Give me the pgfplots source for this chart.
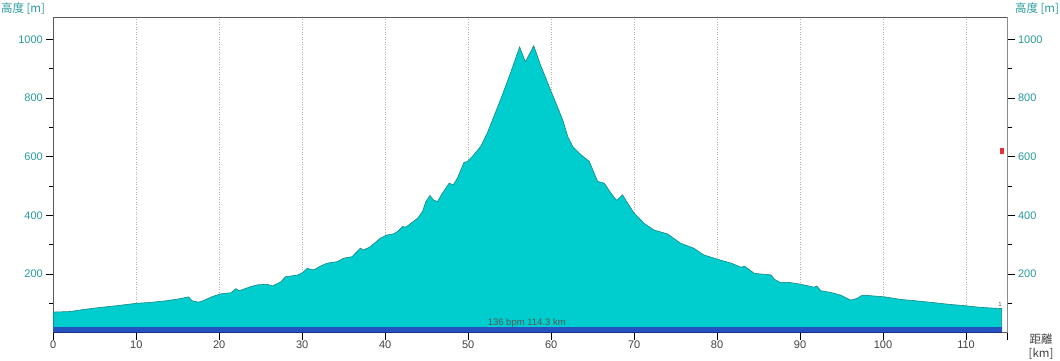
\documentclass[border=0pt]{standalone}
\usepackage{fontspec}
\setmainfont{Liberation Sans}
\newfontfamily\cjk{Noto Sans CJK JP}
\usepackage{pgfplots}
\usepackage{pgfplotstable}
\pgfplotsset{compat=1.18}
\definecolor{fillc}{HTML}{00CDCD}
\definecolor{edgec}{HTML}{1A8585}
\definecolor{bandc}{HTML}{2452C0}
\definecolor{bandedge}{HTML}{1A2E8A}
\definecolor{tealtxt}{HTML}{2A9A9A}
\definecolor{graytxt}{HTML}{404040}
\definecolor{gridc}{HTML}{B0B0B0}
\definecolor{markred}{HTML}{E83030}

\pgfplotstableread{
km   ele
0    70
2.05 72
3.66 79
5.67 86
7.68 92
10.0 100
11.7 103
13.7 109
15.3 116
16.3 122
16.7 109
17.5 104
18.1 109
18.9 120
20.1 132
21.4 136
22.0 150
22.4 143
23.8 157
24.6 163
25.8 165
26.4 159
27.4 173
28.0 191
29.4 196
30.0 204
30.6 219
31.4 214
32.2 227
33.0 237
34.2 242
35.0 254
36.0 259
37.0 288
37.4 282
38.2 293
39.4 322
40.2 333
41.0 337
41.5 345
42.1 362
42.5 360
43.1 373
43.9 390
44.5 413
44.9 447
45.4 468
45.8 453
46.3 447
46.9 476
47.7 510
48.2 504
48.7 527
49.5 581
49.9 584
50.5 601
51.5 635
52.3 681
53.1 738
53.9 795
55.1 886
56.2 975
56.9 924
57.9 979
58.7 915
60.0 823
61.4 726
62.0 669
62.6 635
63.6 607
64.6 584
65.6 516
66.4 510
67.2 476
67.9 451
68.6 470
69.1 447
70.0 408
71.2 373
72.4 350
74.0 337
75.6 305
77.2 288
78.4 265
80.1 250
81.7 237
82.9 223
83.3 227
84.5 202
85.3 200
86.5 197
86.9 182
87.7 170
88.5 172
90.1 165
91.7 155
92.0 159
92.5 143
93.7 137
94.9 128
96.1 111
96.9 117
97.5 128
98.9 125
100.2 122
102.2 113
103.8 109
106.2 102
107.8 97
109.8 92
111.8 86
114.3 82
}\profile

\begin{document}
\begin{tikzpicture}[x=1pt,y=1pt]
\path[use as bounding box] (0,0) rectangle (1060,360);
\begin{axis}[
  at={(53.3pt,27.4pt)}, anchor=south west,
  scale only axis, width=954.2pt, height=315.3pt,
  xmin=0, xmax=115, ymin=0, ymax=1076,
  axis line style={draw=black!65, line width=0.9pt},
  tick align=outside,
  xtick pos=bottom, ytick pos=left,
  xtick={0,10,...,110},
  extra x ticks={115}, extra x tick labels={},
  extra x tick style={grid=none},
  ytick={200,400,...,1000},
  minor ytick={100,300,...,900},
  major tick length=7pt, minor tick length=4.5pt,
  every tick/.style={black, line width=0.9pt},
  xmajorgrids,
  major x grid style={draw=gridc, dash pattern=on 1pt off 1.5pt, line width=0.8pt},
  /pgf/number format/assume math mode=true,
  /pgf/number format/1000 sep={},
  xticklabel style={font=\fontsize{11}{13}\selectfont, text=graytxt, yshift=2pt},
  yticklabel style={font=\fontsize{11}{13}\selectfont, text=tealtxt},
  clip=false,
]
\addplot[fill=fillc, draw=edgec, line width=0.6pt] table[x=km,y=ele] {\profile} \closedcycle;
\addplot[fill=bandc, draw=none] coordinates {(0,20) (114.3,20)} \closedcycle;
\addplot[draw=bandedge, line width=1pt] coordinates {(0,0.8) (114.3,0.8)};
\addplot[fill=markred, draw=none] coordinates {(114.05,608) (114.05,631) (114.55,631) (114.55,608)} -- cycle;
\node[font=\fontsize{9.5}{11}\selectfont, text=black!65] at (axis cs:57.06,32.5) {136 bpm 114.3 km};
\node[font=\fontsize{6}{7}\selectfont, text=black!70] at (axis cs:114.1,96) {1};
\end{axis}
\begin{axis}[
  at={(53.3pt,27.4pt)}, anchor=south west,
  scale only axis, width=954.2pt, height=315.3pt,
  xmin=0, xmax=115, ymin=0, ymax=1076,
  axis x line=none, axis y line*=right,
  axis line style={draw=black!45, line width=1.6pt, -},
  tick align=outside,
  ytick={200,400,...,1000},
  minor ytick={100,300,...,900},
  major tick length=7pt, minor tick length=4.5pt,
  every tick/.style={black, line width=0.9pt},
  /pgf/number format/assume math mode=true,
  /pgf/number format/1000 sep={},
  yticklabel style={font=\fontsize{11}{13}\selectfont, text=tealtxt},
]
\addplot[draw=none] coordinates {(0,0)};
\end{axis}
\node[font=\cjk\fontsize{11.5}{13}\selectfont, text=tealtxt] at (23,351.5) {高度 [m]};
\node[font=\cjk\fontsize{11.5}{13}\selectfont, text=tealtxt] at (1037,351.5) {高度 [m]};
\node[font=\cjk\fontsize{11.5}{13}\selectfont, text=graytxt] at (1041,20.5) {距離};
\node[font=\cjk\fontsize{11.5}{13}\selectfont, text=graytxt] at (1041,6.5) {[km]};
\end{tikzpicture}
\end{document}
